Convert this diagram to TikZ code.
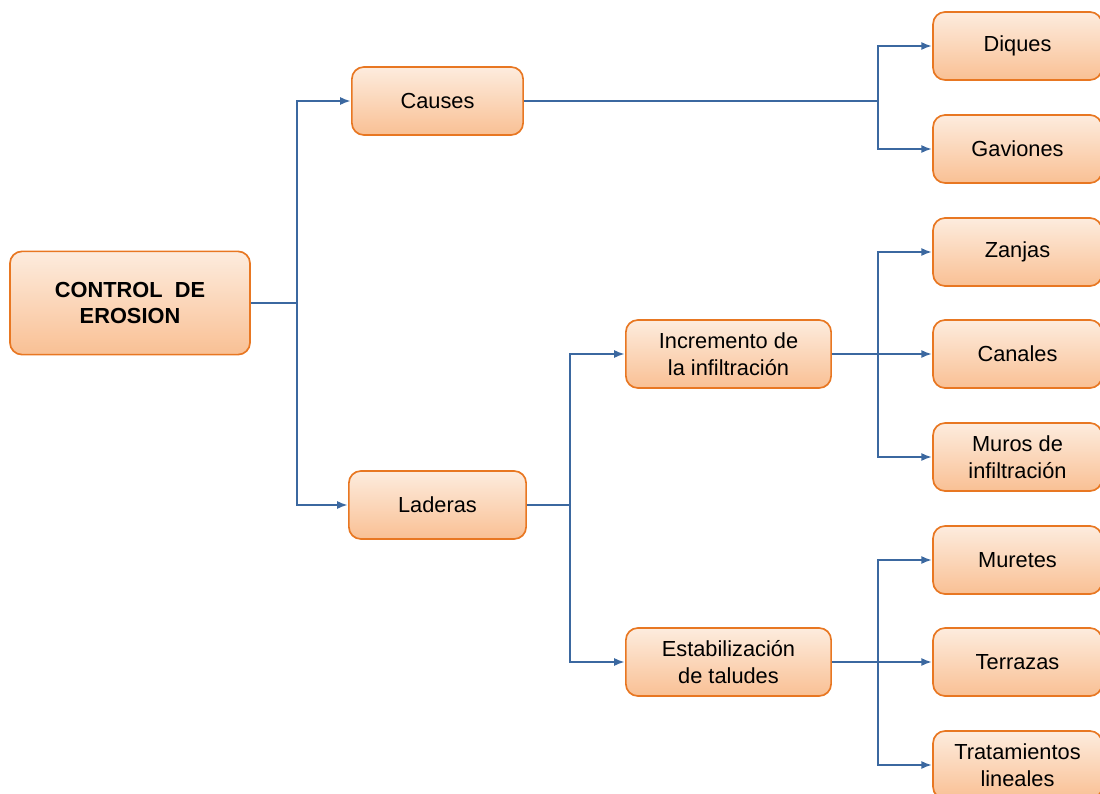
\documentclass[tikz,border=0pt]{standalone}
\usepackage{fontspec}
\setmainfont{Liberation Sans}
\usetikzlibrary{arrows.meta}

\definecolor{linkblue}{RGB}{59,104,160}
\definecolor{boxedge}{RGB}{232,119,34}
\definecolor{boxtop}{RGB}{253,236,222}
\definecolor{boxbottom}{RGB}{249,192,148}

\tikzset{
  box/.style={draw=boxedge, line width=1.2pt, rounded corners=0.3cm,
    top color=boxtop, bottom color=boxbottom, align=center,
    minimum height=1.7cm, inner sep=2pt,
    font=\fontsize{15.5}{19}\selectfont},
  rootbox/.style={box, minimum width=6cm, minimum height=2.58cm,
    font=\fontsize{15.5}{18.5}\selectfont\bfseries},
  leafbox/.style={box, minimum width=4.22cm},
  link/.style={draw=linkblue, line width=1.6pt},
  arrow/.style={link, -{Latex[length=0.27cm,width=0.2cm]}}
}

\begin{document}
\begin{tikzpicture}[x=0.025cm,y=-0.025cm]
\useasboundingbox (0,0) rectangle (1100,794);

% main boxes
\node[rootbox] (root) at (130,303) {CONTROL\ \ DE\\EROSION};
\node[box, minimum width=4.28cm] (causes) at (437.5,101) {Causes};
\node[box, minimum width=4.43cm] (laderas) at (437.5,505) {Laderas};
\node[box, minimum width=5.13cm] (incre) at (728.5,354) {Incremento de\\la infiltración};
\node[box, minimum width=5.13cm] (estab) at (728.5,662) {Estabilización\\de taludes};

% right column
\node[leafbox] (diques) at (1017.5,46) {Diques};
\node[leafbox] (gaviones) at (1017.5,149) {Gaviones};
\node[leafbox] (zanjas) at (1017.5,252) {Zanjas};
\node[leafbox] (canales) at (1017.5,354) {Canales};
\node[leafbox] (muros) at (1017.5,457) {Muros de\\infiltración};
\node[leafbox] (muretes) at (1017.5,560) {Muretes};
\node[leafbox] (terrazas) at (1017.5,662) {Terrazas};
\node[leafbox] (trata) at (1017.5,765) {Tratamientos\\lineales};

% branch points
\coordinate (j1) at (297,303);
\coordinate (j2) at (878,101);
\coordinate (j3) at (570,505);
\coordinate (j4) at (878,354);
\coordinate (j5) at (878,662);

\draw[link] (root.east) -- (j1);
\draw[link] (causes.east) -- (j2);
\draw[link] (laderas.east) -- (j3);
\draw[link] (incre.east) -- (j4);
\draw[link] (estab.east) -- (j5);

\foreach \from/\to in {j1/causes, j1/laderas, j2/diques, j2/gaviones,
  j3/incre, j3/estab, j4/zanjas, j4/canales, j4/muros,
  j5/muretes, j5/terrazas, j5/trata}
  \draw[arrow] (\from) |- (\to.west);

\end{tikzpicture}
\end{document}
